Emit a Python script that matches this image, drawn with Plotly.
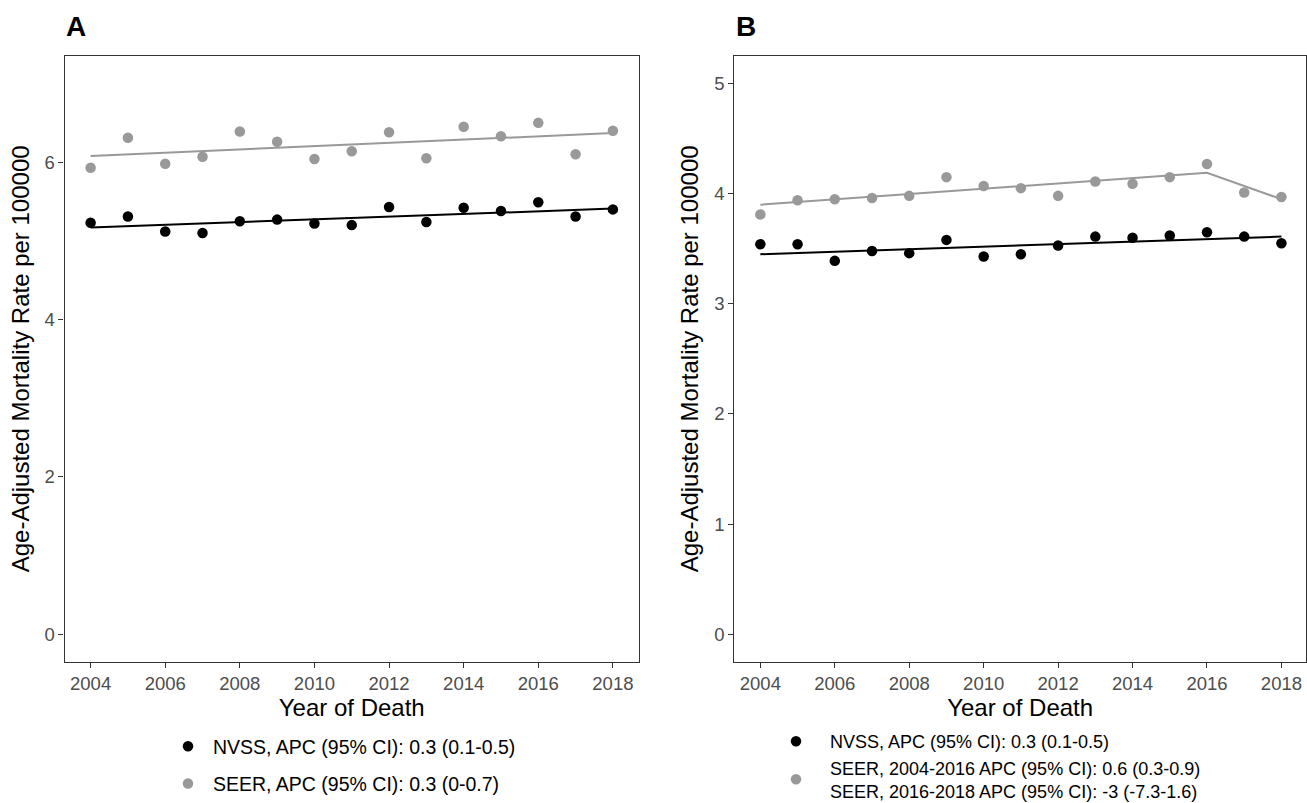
import plotly.graph_objects as go

# ---------------- data ----------------
years = [2004, 2005, 2006, 2007, 2008, 2009, 2010, 2011, 2012, 2013, 2014, 2015, 2016, 2017, 2018]

a_nvss = [5.23, 5.31, 5.12, 5.10, 5.25, 5.27, 5.22, 5.20, 5.43, 5.24, 5.42, 5.38, 5.49, 5.31, 5.40]
a_seer = [5.93, 6.31, 5.98, 6.07, 6.39, 6.26, 6.04, 6.14, 6.38, 6.05, 6.45, 6.33, 6.50, 6.10, 6.40]
a_fit_years = [2004, 2018]
a_nvss_fit = [5.17, 5.41]
a_seer_fit = [6.08, 6.37]

b_nvss = [3.54, 3.54, 3.39, 3.48, 3.46, 3.58, 3.43, 3.45, 3.53, 3.61, 3.60, 3.62, 3.65, 3.61, 3.55]
b_seer = [3.81, 3.94, 3.95, 3.96, 3.98, 4.15, 4.07, 4.05, 3.98, 4.11, 4.09, 4.15, 4.27, 4.01, 3.97]
b_nvss_fit_years = [2004, 2018]
b_nvss_fit = [3.45, 3.61]
b_seer_fit_years = [2004, 2016, 2018]
b_seer_fit = [3.90, 4.19, 3.95]

a_labels = ["NVSS, APC (95% CI): 0.3 (0.1-0.5)",
            "SEER, APC (95% CI): 0.3 (0-0.7)"]
b_labels = ["NVSS, APC (95% CI): 0.3 (0.1-0.5)",
            "SEER, 2004-2016 APC (95% CI): 0.6 (0.3-0.9)<br>SEER, 2016-2018 APC (95% CI): -3 (-7.3-1.6)"]

x_ticks = [2004, 2006, 2008, 2010, 2012, 2014, 2016, 2018]
a_yticks = [0, 2, 4, 6]
b_yticks = [0, 1, 2, 3, 4, 5]

# ---------------- style ----------------
BLACK = "#000000"
GREY = "#999999"
FRAME = "#333333"
TICKTXT = "#4d4d4d"
FONT = "Liberation Sans, Arial, Helvetica, sans-serif"
W, H = 1307, 803

fig = go.Figure()

# Panel A
fig.add_trace(go.Scatter(x=a_fit_years, y=a_seer_fit, mode="lines", line=dict(color=GREY, width=2),
                         showlegend=False, xaxis="x", yaxis="y", hoverinfo="skip"))
fig.add_trace(go.Scatter(x=a_fit_years, y=a_nvss_fit, mode="lines", line=dict(color=BLACK, width=2),
                         showlegend=False, xaxis="x", yaxis="y", hoverinfo="skip"))
fig.add_trace(go.Scatter(x=years, y=a_nvss, mode="markers", marker=dict(color=BLACK, size=10.5),
                         name=a_labels[0], legend="legend", legendgroup="a1", xaxis="x", yaxis="y"))
fig.add_trace(go.Scatter(x=years, y=a_seer, mode="markers", marker=dict(color=GREY, size=10.5),
                         name=a_labels[1], legend="legend", legendgroup="a2", xaxis="x", yaxis="y"))

# Panel B
fig.add_trace(go.Scatter(x=b_seer_fit_years, y=b_seer_fit, mode="lines", line=dict(color=GREY, width=2),
                         showlegend=False, xaxis="x2", yaxis="y2", hoverinfo="skip"))
fig.add_trace(go.Scatter(x=b_nvss_fit_years, y=b_nvss_fit, mode="lines", line=dict(color=BLACK, width=2),
                         showlegend=False, xaxis="x2", yaxis="y2", hoverinfo="skip"))
fig.add_trace(go.Scatter(x=years, y=b_nvss, mode="markers", marker=dict(color=BLACK, size=10.5),
                         name=b_labels[0], legend="legend2", legendgroup="b1", xaxis="x2", yaxis="y2"))
fig.add_trace(go.Scatter(x=years, y=b_seer, mode="markers", marker=dict(color=GREY, size=10.5),
                         name=b_labels[1], legend="legend2", legendgroup="b2", xaxis="x2", yaxis="y2"))

def px_x(p):
    return p / W

def px_y(p):
    return 1 - p / H

common_axis = dict(showline=True, mirror=True, linecolor=FRAME, linewidth=1.1,
                   ticks="outside", ticklen=5, tickwidth=1.1, tickcolor=FRAME,
                   showgrid=False, zeroline=False, automargin=False,
                   tickfont=dict(family=FONT, size=18.5, color=TICKTXT))

ydom = [px_y(661.7), px_y(56)]
title_font = dict(family=FONT, size=24, color="black")

fig.update_layout(
    width=W, height=H,
    margin=dict(l=0, r=0, t=0, b=0, autoexpand=False),
    paper_bgcolor="white", plot_bgcolor="white",
    font=dict(family=FONT, color="black"),
    xaxis=dict(domain=[px_x(64.5), px_x(639)], range=[2003.3, 2018.7], tickvals=x_ticks,
               title=dict(text="Year of Death", font=title_font, standoff=6),
               anchor="y", **common_axis),
    yaxis=dict(domain=ydom, range=[-0.35, 7.35], tickvals=a_yticks,
               title=dict(text="Age-Adjusted Mortality Rate per 100000", font=title_font, standoff=8),
               anchor="x", **common_axis),
    xaxis2=dict(domain=[px_x(734.3), px_x(1306)], range=[2003.3, 2018.66], tickvals=x_ticks,
                title=dict(text="Year of Death", font=title_font, standoff=6),
                anchor="y2", **common_axis),
    yaxis2=dict(domain=ydom, range=[-0.25, 5.25], tickvals=b_yticks,
                title=dict(text="Age-Adjusted Mortality Rate per 100000", font=title_font, standoff=8),
                anchor="x2", **common_axis),
    legend=dict(x=px_x(163), y=px_y(727), xanchor="left", yanchor="top",
                bgcolor="rgba(0,0,0,0)", font=dict(family=FONT, size=19.5, color="black"),
                traceorder="grouped", tracegroupgap=9, itemwidth=40),
    legend2=dict(x=px_x(762), y=px_y(723), xanchor="left", yanchor="top",
                 bgcolor="rgba(0,0,0,0)", font=dict(family=FONT, size=18, color="black"),
                 traceorder="grouped", tracegroupgap=0, itemwidth=58),
    annotations=[
        dict(text="<b>A</b>", x=px_x(64), y=px_y(26), xref="paper", yref="paper",
             xanchor="left", yanchor="middle", showarrow=False,
             font=dict(family=FONT, size=28, color="black")),
        dict(text="<b>B</b>", x=px_x(734), y=px_y(26), xref="paper", yref="paper",
             xanchor="left", yanchor="middle", showarrow=False,
             font=dict(family=FONT, size=28, color="black")),
    ],
)

fig.write_html("out.html",
               config={"displayModeBar": False},
               post_script="document.body.style.margin='0';document.body.style.overflow='hidden';")
